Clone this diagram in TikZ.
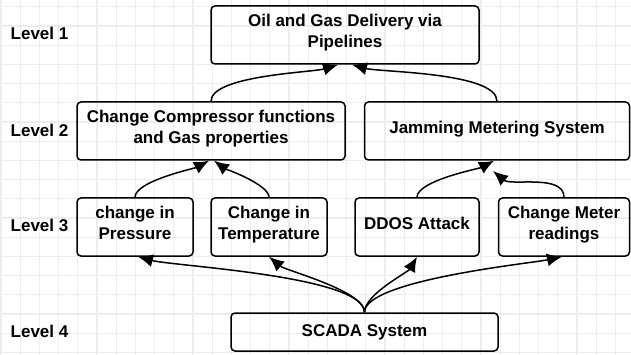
\documentclass[tikz,border=0pt]{standalone}
\usepackage{fontspec}
\setmainfont{Liberation Sans}
\usetikzlibrary{arrows.meta}
\newcommand{\boxfont}{\bfseries\fontsize{17}{20.5}\selectfont}

\begin{document}
\begin{tikzpicture}[x=1pt, y=-1pt,
  blk/.style={draw, line width=1.5pt, rounded corners=4pt, align=center, inner sep=0pt, minimum height=58pt, text depth=8pt, font=\boxfont},
  lvl/.style={font=\boxfont, inner sep=0pt},
  arr/.style={-{Latex[length=15pt,width=13pt]}, line width=1.5pt},
  gridline/.style={draw=black!7, line width=1.2pt}]
\useasboundingbox (0,0) rectangle (631,355);
\fill[white] (0,0) rectangle (631,355);
% background grid
\foreach \i in {0,...,32} \draw[gridline] (1+19.2*\i,0) -- (1+19.2*\i,355);
\foreach \j in {0,...,18} \draw[gridline] (0,6.8+19.2*\j) -- (631,6.8+19.2*\j);
% level labels
\node[lvl] (lv1) at (39.5,33) {Level 1};
\node[lvl] (lv2) at (39.5,130) {Level 2};
\node[lvl] (lv3) at (39.5,225) {Level 3};
\node[lvl] (lv4) at (39.5,331) {Level 4};
% boxes
\node[blk, minimum width=268pt] (oil) at (345,35) {Oil and Gas Delivery via\\Pipelines};
\node[blk, minimum width=268pt] (comp) at (211,131) {Change Compressor functions\\and Gas properties};
\node[blk, minimum width=265pt] (jam) at (497,131) {Jamming Metering System};
\node[blk, minimum width=116pt] (pres) at (135,227) {change in\\Pressure};
\node[blk, minimum width=116pt] (temp) at (269,227) {Change in\\Temperature};
\node[blk, minimum width=124pt] (ddos) at (417,227) {DDOS Attack};
\node[blk, minimum width=131pt] (meter) at (564,227) {Change Meter\\readings};
\node[blk, minimum width=267pt, minimum height=38pt, text depth=3.7pt] (scada) at (364.5,332) {SCADA System};
% level 2 -> level 1
\draw[arr] (comp.north) to[out=90, in=-163, looseness=0.5] ([xshift=-7pt]oil.south);
\draw[arr] (jam.north) to[out=90, in=-15, looseness=0.5] ([xshift=7pt]oil.south);
% level 3 -> level 2
\draw[arr] (pres.north) to[out=90, in=-152, looseness=0.5] ([xshift=-2pt]comp.south);
\draw[arr] (temp.north) to[out=90, in=-36, looseness=0.5] ([xshift=3pt]comp.south);
\draw[arr] (ddos.north) to[out=90, in=-152, looseness=0.5] ([xshift=-3pt]jam.south);
\coordinate (mend) at (493,171);
\draw[arr] (meter.north) to[out=90, in=-40, looseness=0.8] (mend);
% level 4 -> level 3
\draw[arr] (scada.north) to[out=90, in=-15, looseness=0.4] ([xshift=3pt]pres.south);
\draw[arr] (scada.north) to[out=90, in=-40, looseness=0.5] (temp.south);
\draw[arr] (scada.north) to[out=90, in=-120, looseness=0.6] (ddos.south);
\draw[arr] (scada.north) to[out=90, in=-168, looseness=0.4] ([xshift=-2pt]meter.south);
\end{tikzpicture}
\end{document}
